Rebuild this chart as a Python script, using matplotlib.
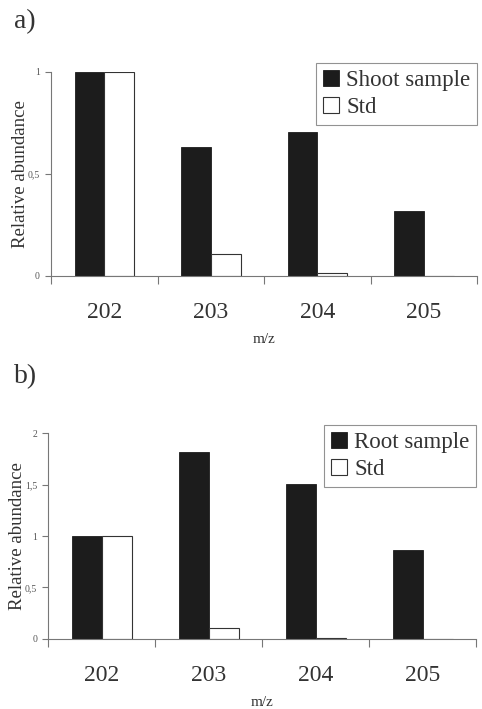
import numpy as np
import matplotlib.pyplot as plt

plt.rcParams['font.family'] = ['Liberation Serif', 'DejaVu Serif']

mz = ["202", "203", "204", "205"]
shoot = [1.0, 0.63, 0.705, 0.315]
shoot_std = [1.0, 0.108, 0.013, 0.0]
root = [1.0, 1.82, 1.51, 0.86]
root_std = [1.0, 0.11, 0.01, 0.0]

fig = plt.figure(figsize=(4.82, 7.09), dpi=100)

def panel(rect, sample, std, name, ymax, yticks, yticklabels, letter, letter_y):
    ax = fig.add_axes(rect)
    x = np.arange(len(mz))
    w = 0.28
    ax.bar(x - w / 2, sample, w, color="#1c1c1c", edgecolor="#1c1c1c", linewidth=0.6, label=name)
    ax.bar(x + w / 2, std, w, color="white", edgecolor="#333333", linewidth=0.8, label="Std")
    ax.set_xlim(-0.5, 3.5)
    ax.set_ylim(0, ymax)
    for s in ["top", "right"]:
        ax.spines[s].set_visible(False)
    for s in ["left", "bottom"]:
        ax.spines[s].set_color("#777777")
        ax.spines[s].set_linewidth(0.8)
    ax.set_xticks(x)
    ax.set_xticklabels(mz, fontsize=17, color="#333333")
    ax.tick_params(axis="x", length=0, pad=19)
    ax.set_xticks(np.arange(-0.5, 4.0, 1.0), minor=True)
    ax.tick_params(axis="x", which="minor", length=6, color="#777777", width=0.8)
    ax.set_yticks(yticks)
    ax.set_yticklabels(yticklabels, fontsize=7, color="#555555")
    ax.tick_params(axis="y", length=4, color="#777777", width=0.8, pad=4)
    ax.set_ylabel("Relative abundance", fontsize=13.5, color="#333333", labelpad=-1)
    ax.set_xlabel("m/z", fontsize=11, color="#333333", labelpad=7)
    leg = ax.legend(loc="upper right", bbox_to_anchor=(1.0, 1.04), fontsize=16.5, frameon=True,
                    fancybox=False, handlelength=0.7, handleheight=0.7, handletextpad=0.3,
                    borderpad=0.3, labelspacing=0.25, borderaxespad=0.0)
    leg.get_frame().set_edgecolor("#777777")
    leg.get_frame().set_linewidth(0.8)
    for t in leg.get_texts():
        t.set_color("#333333")
    fig.text(0.03, letter_y, letter, fontsize=20, color="#333333", va="center")
    return ax

panel([0.106, 0.611, 0.884, 0.288], shoot, shoot_std, "Shoot sample", 1.0,
      [0, 0.5, 1], ["0", "0,5", "1"], "a)", 0.970)
panel([0.100, 0.099, 0.888, 0.290], root, root_std, "Root sample", 2.0,
      [0, 0.5, 1, 1.5, 2], ["0", "0,5", "1", "1,5", "2"], "b)", 0.469)

fig.savefig("out.png", dpi=100)
